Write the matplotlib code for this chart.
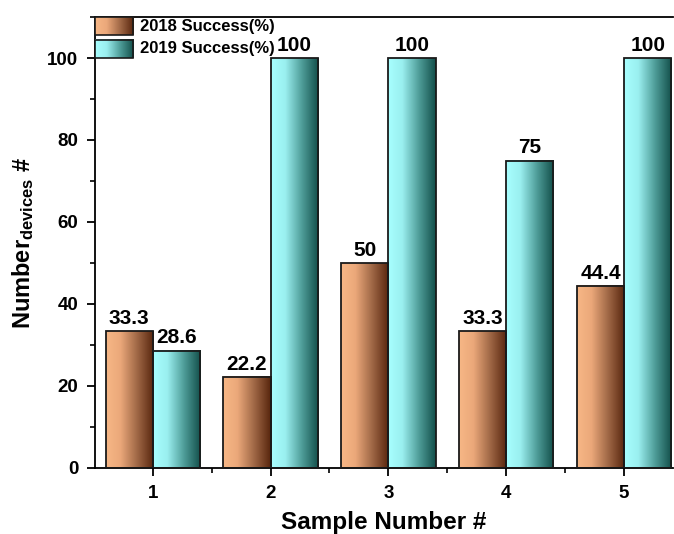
import numpy as np
import matplotlib.pyplot as plt
from matplotlib.colors import LinearSegmentedColormap
from matplotlib.ticker import MultipleLocator

samples = [1, 2, 3, 4, 5]
success_2018 = [33.3, 22.2, 50, 33.3, 44.4]
success_2019 = [28.6, 100, 100, 75, 100]
labels_2018 = ['33.3', '22.2', '50', '33.3', '44.4']
labels_2019 = ['28.6', '100', '100', '75', '100']
series_names = ['2018 Success(%)', '2019 Success(%)']

plt.rcParams['font.family'] = ['Liberation Sans', 'DejaVu Sans']
plt.rcParams['mathtext.default'] = 'regular'

cmap_orange = LinearSegmentedColormap.from_list(
    'orange', [(0, '#F7B786'), (0.3, '#EBA87A'), (0.65, '#A06846'), (1, '#57250D')])
cmap_cyan = LinearSegmentedColormap.from_list(
    'cyan', [(0, '#A8FFFF'), (0.3, '#9AEFEF'), (0.65, '#4E9C98'), (1, '#124E49')])

grad = np.linspace(0, 1, 256).reshape(1, -1)
width = 0.4

fig = plt.figure(figsize=(6.74, 5.34), dpi=100)
ax = fig.add_axes([95 / 674, 66 / 534, 578 / 674, 451 / 534])


def gradient_bars(xs, heights, cmap):
    for x, h in zip(xs, heights):
        ax.imshow(grad, extent=[x, x + width, 0, h], aspect='auto', cmap=cmap,
                  interpolation='bilinear', zorder=2)
    ax.bar(xs, heights, width=width, align='edge', facecolor='none',
           edgecolor='#1a1a1a', linewidth=1.3, zorder=3)


x = np.array(samples, dtype=float)
gradient_bars(x - width, success_2018, cmap_orange)
gradient_bars(x, success_2019, cmap_cyan)

for xi, v, t in zip(x, success_2018, labels_2018):
    ax.text(xi - width / 2, v + 0.8, t, ha='center', va='bottom',
            fontsize=15, fontweight='bold', zorder=4)
for xi, v, t in zip(x, success_2019, labels_2019):
    ax.text(xi + width / 2, v + 0.8, t, ha='center', va='bottom',
            fontsize=15, fontweight='bold', zorder=4)

ax.set_xlim(0.51, 5.415)
ax.set_ylim(0, 110)
ax.set_xticks(samples)
ax.xaxis.set_minor_locator(MultipleLocator(1, offset=0.5))
ax.yaxis.set_major_locator(MultipleLocator(20))
ax.yaxis.set_minor_locator(MultipleLocator(10))
ax.set_yticks([0, 20, 40, 60, 80, 100])
ax.tick_params(axis='both', which='major', direction='out', length=6, width=1.3,
               labelsize=13.5, pad=6)
ax.tick_params(axis='both', which='minor', direction='out', length=3.5, width=1.2)
for lab in ax.get_xticklabels() + ax.get_yticklabels():
    lab.set_fontweight('bold')

for s in ['left', 'bottom', 'top']:
    ax.spines[s].set_linewidth(1.3)
ax.spines['right'].set_visible(False)

ax.set_xlabel('Sample Number #', fontsize=17.5, fontweight='bold', labelpad=7)
ax.set_ylabel(r'Number$_{devices}$ #', fontsize=17, fontweight='bold', labelpad=8)

# legend with gradient swatches
for i, (name, cmap) in enumerate(zip(series_names, [cmap_orange, cmap_cyan])):
    y1 = 1.0 - i * 0.05
    y0 = y1 - 0.04
    ax.imshow(grad, extent=[0.0, 0.066, y0, y1], transform=ax.transAxes,
              aspect='auto', cmap=cmap, interpolation='bilinear', zorder=5)
    ax.add_patch(plt.Rectangle((0.0, y0), 0.066, y1 - y0, transform=ax.transAxes,
                               facecolor='none', edgecolor='#1a1a1a', linewidth=1.2,
                               zorder=6, clip_on=False))
    ax.text(0.077, (y0 + y1) / 2, name, transform=ax.transAxes, ha='left',
            va='center', fontsize=12, fontweight='bold', zorder=6)

ax.set_xlim(0.51, 5.415)
ax.set_ylim(0, 110)

fig.savefig('out.png', dpi=100)
